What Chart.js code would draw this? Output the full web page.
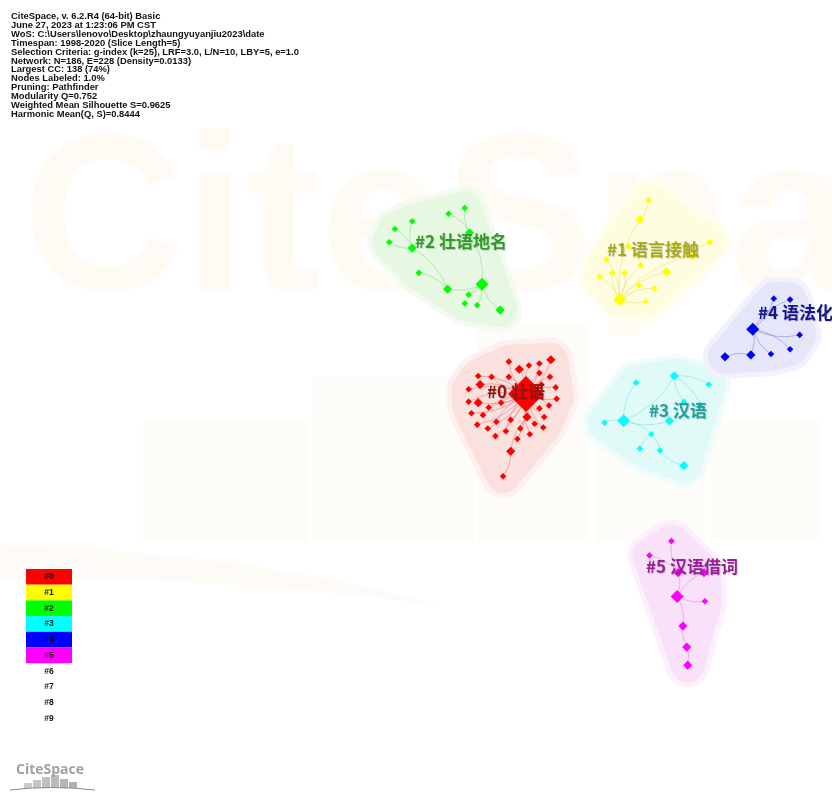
<!DOCTYPE html>
<html>
<head>
<meta charset="utf-8">
<script src="https://cdn.jsdelivr.net/npm/chart.js@4.4.0/dist/chart.umd.min.js"></script>
<style>
html, body { margin: 0; padding: 0; background: #fff; }
canvas { display: block; }
</style>
</head>
<body>
<canvas id="net" width="832" height="792"></canvas>
<script>
// layout coordinates of every node: [x, y, weight, parent index]
var cluster0 = [
  [531,394,6,-1],[557,358,2,0],[513,360,1,0],[545,362,1,0],[534,364,1,0],[524,368,2,0],
  [545,372,1,0],[481,375,1,0],[495,376,1,0],[513,376,1,0],[556,376,1,0],[483,384,2,0],
  [547,384,1,0],[471,389,1,0],[562,387,1,0],[471,402,1,0],[481,403,2,0],[492,408,1,0],
  [505,403,1,0],[563,399,1,0],[555,406,1,0],[545,409,1,0],[474,414,1,0],[486,416,1,0],
  [532,418,2,0],[550,418,1,0],[515,421,1,0],[500,423,1,0],[480,426,1,0],[540,425,1,0],
  [525,430,1,0],[549,429,1,0],[491,430,1,0],[510,433,1,0],[499,438,1,0],[535,436,1,0],
  [522,441,1,0],[515,454,2,24],[507,480,1,37]
];
var cluster1 = [
  [629,295,3,-1],[656,297,1,0],[665,283,1,0],[649,280,1,0],[678,266,2,0],[608,271,1,0],
  [621,267,1,0],[634,267,1,0],[651,259,1,0],[638,239,1,8],[650,211,2,0],[659,191,1,10],
  [705,249,2,0],[687,237,1,12],[723,235,1,12],[615,253,1,0]
];
var cluster2 = [
  [485,279,3,-1],[472,225,2,0],[467,199,1,1],[450,205,1,1],[449,284,2,0],[412,241,2,4],
  [412,213,1,5],[394,221,1,5],[388,235,1,5],[419,267,1,4],[471,290,1,0],[467,299,1,0],
  [480,301,1,0],[504,306,2,0]
];
var cluster3 = [
  [633,422,3,-1],[613,424,1,0],[646,382,1,0],[686,375,2,0],[722,384,1,3],[696,402,1,3],
  [713,405,1,3],[681,422,2,0],[662,436,1,0],[650,451,1,8],[671,453,1,8],[696,469,2,10]
];
var cluster4 = [
  [768,326,3,-1],[790,294,1,0],[807,295,1,0],[817,332,1,0],[807,347,1,0],[787,352,1,0],
  [766,353,2,0],[739,355,2,6]
];
var cluster5 = [
  [689,606,3,-1],[690,581,2,0],[683,548,1,1],[660,563,1,1],[717,581,2,0],[718,611,1,0],
  [695,637,2,0],[699,659,2,6],[700,678,2,7]
];
var clusters = [cluster0, cluster1, cluster2, cluster3, cluster4, cluster5];

var clusterLabels = ["#0 壮语", "#1 语言接触", "#2 壮语地名", "#3 汉语", "#4 语法化", "#5 汉语借词"];
var labelAt = [[487,392],[607,250],[415,242],[649,411],[758,313],[646,567]];
var legendLabels = ["#0", "#1", "#2", "#3", "#4", "#5", "#6", "#7", "#8", "#9"];

var headerLines = [
  "CiteSpace, v. 6.2.R4 (64-bit) Basic",
  "June 27, 2023 at 1:23:06 PM CST",
  "WoS: C:\\Users\\lenovo\\Desktop\\zhaungyuyanjiu2023\\date",
  "Timespan: 1998-2020 (Slice Length=5)",
  "Selection Criteria: g-index (k=25), LRF=3.0, L/N=10, LBY=5, e=1.0",
  "Network: N=186, E=228 (Density=0.0133)",
  "Largest CC: 138 (74%)",
  "Nodes Labeled: 1.0%",
  "Pruning: Pathfinder",
  "Modularity Q=0.752",
  "Weighted Mean Silhouette S=0.9625",
  "Harmonic Mean(Q, S)=0.8444"
];

var nodeColors = ["#ff0000", "#ffff00", "#00ff00", "#00ffff", "#0000ff", "#ff00ff"];
var hullColors = ["#fbe1dd", "#fffde0", "#e6f7e2", "#dffaf7", "#e6e6fa", "#fae1fa"];
var hullEdge = ["#fdf0ee", "#fffef0", "#f3fbf1", "#effcfb", "#f2f2fc", "#fcf0fc"];
var edgeColors = ["rgba(225,120,120,0.7)", "rgba(235,225,120,0.8)", "rgba(140,215,140,0.7)",
                  "rgba(130,220,220,0.7)", "rgba(130,130,225,0.7)", "rgba(215,140,215,0.7)"];
var labelColors = ["#8e1616", "#a8a824", "#2f9c26", "#22a0a0", "#16168f", "#971f97"];

function radiusFor(w) {
  if (w >= 6) return 18;
  if (w >= 3) return 6.5;
  if (w >= 2) return 4.6;
  return 3.3;
}

function convexHull(pts) {
  pts = pts.slice().sort(function (a, b) { return a[0] - b[0] || a[1] - b[1]; });
  var cross = function (o, a, b) { return (a[0] - o[0]) * (b[1] - o[1]) - (a[1] - o[1]) * (b[0] - o[0]); };
  var lower = [], upper = [];
  pts.forEach(function (p) {
    while (lower.length >= 2 && cross(lower[lower.length - 2], lower[lower.length - 1], p) <= 0) lower.pop();
    lower.push(p);
  });
  for (var i = pts.length - 1; i >= 0; i--) {
    var p = pts[i];
    while (upper.length >= 2 && cross(upper[upper.length - 2], upper[upper.length - 1], p) <= 0) upper.pop();
    upper.push(p);
  }
  upper.pop(); lower.pop();
  return lower.concat(upper);
}

function hullPath(ctx, nodes, pad, px, py) {
  var hull = convexHull(nodes.map(function (n) { return [px(n[0]), py(n[1])]; }));
  ctx.lineJoin = "round";
  ctx.lineWidth = pad * 2;
  ctx.beginPath();
  hull.forEach(function (p, k) { if (k) ctx.lineTo(p[0], p[1]); else ctx.moveTo(p[0], p[1]); });
  ctx.closePath();
  ctx.fill();
  ctx.stroke();
}

var backdrop = {
  id: "backdrop",
  beforeDatasetsDraw: function (chart) {
    var ctx = chart.ctx, sx = chart.scales.x, sy = chart.scales.y;
    var px = function (v) { return sx.getPixelForValue(v); };
    var py = function (v) { return sy.getPixelForValue(v); };
    ctx.save();
    ctx.fillStyle = "#ffffff";
    ctx.fillRect(0, 0, chart.width, chart.height);

    // faint CiteSpace watermark
    ctx.fillStyle = "rgba(253,214,160,0.13)";
    ctx.font = "bold 223px 'Liberation Sans', Arial, sans-serif";
    ctx.textBaseline = "alphabetic";
    ctx.fillText("CiteSpace", 23, 290);
    ctx.fillStyle = "rgba(248,232,205,0.13)";
    [[143,422,164,120],[312,376,161,166],[478,322,112,220],[596,398,110,144],[708,420,110,122]].forEach(function (r) {
      ctx.fillRect(r[0], r[1], r[2], r[3]);
    });
    ctx.beginPath();
    ctx.moveTo(0, 545);
    ctx.quadraticCurveTo(250, 552, 440, 606);
    ctx.quadraticCurveTo(250, 578, 0, 578);
    ctx.closePath();
    ctx.fillStyle = "rgba(250,236,210,0.2)";
    ctx.fill();

    // cluster hulls: soft rim, then body
    clusters.forEach(function (nodes, i) {
      ctx.fillStyle = hullEdge[i];
      ctx.strokeStyle = hullEdge[i];
      hullPath(ctx, nodes, 22, px, py);
      ctx.fillStyle = hullColors[i];
      ctx.strokeStyle = hullColors[i];
      hullPath(ctx, nodes, 17, px, py);
    });

    // links
    clusters.forEach(function (nodes, i) {
      ctx.strokeStyle = edgeColors[i];
      ctx.lineWidth = 0.8;
      nodes.forEach(function (n, k) {
        if (n[3] < 0) return;
        var p = nodes[n[3]];
        var x1 = px(p[0]), y1 = py(p[1]), x2 = px(n[0]), y2 = py(n[1]);
        var mx = (x1 + x2) / 2, my = (y1 + y2) / 2;
        var dx = x2 - x1, dy = y2 - y1;
        var s = (k % 2 ? 0.18 : -0.18);
        ctx.beginPath();
        ctx.moveTo(x1, y1);
        ctx.quadraticCurveTo(mx - dy * s, my + dx * s, x2, y2);
        ctx.stroke();
      });
    });
    ctx.restore();
  },
  afterDraw: function (chart) {
    var ctx = chart.ctx;
    ctx.save();
    // cluster labels
    ctx.textBaseline = "middle";
    ctx.font = "bold 17px 'Noto Sans CJK SC', sans-serif";
    clusterLabels.forEach(function (t, i) {
      ctx.fillStyle = "rgba(0,0,0,0.15)";
      ctx.fillText(t, labelAt[i][0] + 1, labelAt[i][1] + 1);
      ctx.fillStyle = labelColors[i];
      ctx.fillText(t, labelAt[i][0], labelAt[i][1]);
    });

    // header text
    ctx.fillStyle = "#111";
    ctx.font = "bold 9.4px 'Liberation Sans', Arial, sans-serif";
    ctx.textBaseline = "alphabetic";
    headerLines.forEach(function (t, i) {
      ctx.fillText(t, 11, 19 + i * 8.9);
    });

    // legend
    ctx.textAlign = "center";
    ctx.textBaseline = "middle";
    ctx.font = "bold 8.5px 'Liberation Sans', Arial, sans-serif";
    legendLabels.forEach(function (t, i) {
      var y = 569 + i * 15.7;
      if (i < nodeColors.length) {
        ctx.fillStyle = nodeColors[i];
        ctx.fillRect(26, y, 46, 15.7);
      }
      ctx.fillStyle = "#111";
      ctx.fillText(t, 49, y + 8);
    });

    // logo
    ctx.textAlign = "left";
    ctx.textBaseline = "alphabetic";
    ctx.fillStyle = "#a0a0a0";
    ctx.font = "bold 14px 'Open Sans', sans-serif";
    ctx.fillText("CiteSpace", 16, 774);
    [5, 8, 11, 13, 9, 6].forEach(function (h, i) {
      ctx.fillStyle = "rgba(150,150,150," + (0.5 + i * 0.05) + ")";
      ctx.fillRect(24 + i * 9, 788 - h, 8, h);
    });
    ctx.strokeStyle = "#8a8a8a";
    ctx.lineWidth = 1;
    ctx.beginPath();
    ctx.moveTo(10, 790);
    ctx.quadraticCurveTo(50, 785, 95, 790);
    ctx.stroke();
    ctx.restore();
  }
};

var datasets = clusters.map(function (nodes, i) {
  return {
    label: clusterLabels[i],
    data: nodes.map(function (n) { return { x: n[0], y: n[1] }; }),
    pointStyle: "rectRot",
    pointRadius: nodes.map(function (n) { return radiusFor(n[2]); }),
    backgroundColor: nodeColors[i],
    borderColor: nodeColors[i],
    borderWidth: 0,
    showLine: false,
    clip: false
  };
});

new Chart(document.getElementById("net").getContext("2d"), {
  type: "scatter",
  data: { datasets: datasets },
  options: {
    responsive: false,
    animation: false,
    events: [],
    layout: { padding: 0 },
    scales: {
      x: { type: "linear", min: 0, max: 832, display: false },
      y: { type: "linear", min: 0, max: 792, reverse: true, display: false }
    },
    plugins: {
      legend: { display: false },
      tooltip: { enabled: false }
    }
  },
  plugins: [backdrop]
});
</script>
</body>
</html>
